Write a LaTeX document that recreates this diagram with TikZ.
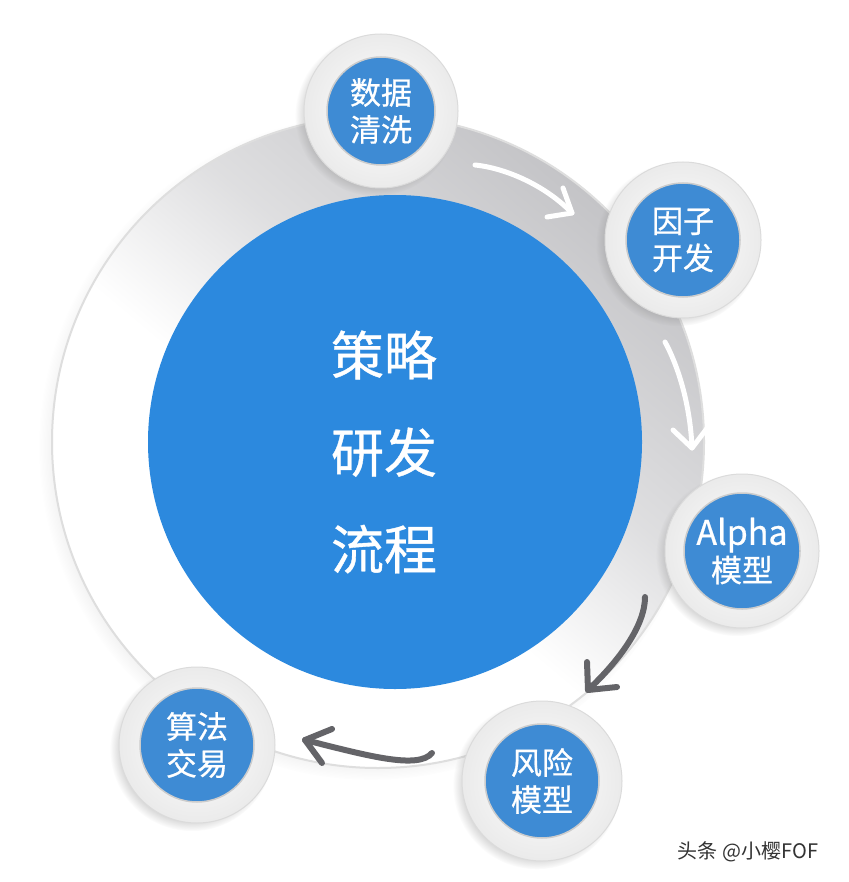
\documentclass[tikz,border=0pt]{standalone}
\usepackage{fontspec}
\newfontfamily\cjk{Noto Sans CJK SC}[FakeBold=0.7]
\newfontfamily\cjkwm{Noto Sans CJK SC}
\usetikzlibrary{shadows,fadings}
\definecolor{coreblue}{RGB}{44,137,222}
\definecolor{dotblue}{RGB}{62,139,212}
\definecolor{ringgray}{RGB}{196,196,199}
\definecolor{arrowgray}{RGB}{100,100,104}
\pgfdeclareverticalshading{ringshade}{100bp}{color(0bp)=(white); color(25bp)=(white); color(45bp)=(white); color(58bp)=(ringgray!55); color(75bp)=(ringgray); color(100bp)=(ringgray)}
\begin{document}
\begin{tikzpicture}[x=1pt,y=-1pt,
  ringdisc/.style={circle, inner sep=0pt, shading=ringshade, shading angle=-40, draw=black!13, line width=2pt,
    circular drop shadow={shadow xshift=-6pt, shadow yshift=-5pt, opacity=0.3, shadow scale=1.02}},
  corebig/.style={circle, inner sep=0pt, fill=coreblue},
  rim/.style={circle, inner sep=0pt, draw=black!14, line width=1pt, inner color=white, outer color=black!8,
    circular drop shadow={shadow xshift=-5pt, shadow yshift=-4pt, opacity=0.35, shadow scale=1.05}},
  dot/.style={circle, inner sep=0pt, fill=dotblue, draw=black!20, line width=1.5pt, text=white, align=center, font=\cjk\fontsize{31}{37}\selectfont},
  whitearrow/.style={draw=white, line width=5pt, line cap=round, line join=round},
  grayarrow/.style={draw=arrowgray, line width=6pt, line cap=round, line join=round}]
\fill[white] (0,0) rectangle (848,882);
\useasboundingbox (0,0) rectangle (848,882);
% big ring
\node[ringdisc, minimum size=652pt] (ring) at (378,442) {};
% arrows
\coordinate (a1s) at (475,165); \coordinate (a1t) at (572,213);
\coordinate (a1l) at (563,188); \coordinate (a1r) at (547,217);
\draw[whitearrow] (a1s) .. controls (505,168) and (545,185) .. (a1t);
\draw[whitearrow] (a1l) -- (a1t) -- (a1r);
\coordinate (a2s) at (665,342); \coordinate (a2t) at (692,448);
\coordinate (a2l) at (673,430); \coordinate (a2r) at (708,427);
\draw[whitearrow] (a2s) .. controls (676,362) and (690,400) .. (a2t);
\draw[whitearrow] (a2l) -- (a2t) -- (a2r);
\coordinate (a3s) at (645,597); \coordinate (a3t) at (588,690);
\coordinate (a3l) at (587,662); \coordinate (a3r) at (617,687);
\draw[grayarrow] (a3s) .. controls (645,625) and (620,660) .. (a3t);
\draw[grayarrow] (a3l) -- (a3t) -- (a3r);
\coordinate (a4s) at (432,753); \coordinate (a4t) at (305,740);
\coordinate (a4l) at (332,729); \coordinate (a4r) at (322,763);
\draw[grayarrow] (a4s) .. controls (418,770) and (365,755) .. (a4t);
\draw[grayarrow] (a4l) -- (a4t) -- (a4r);
% core
\node[corebig, minimum size=494pt] (core) at (395,442) {};
\node[text=white, align=center, font=\cjk\fontsize{53}{97}\selectfont] (title) at (384,452) {策略\\研发\\流程};
% small circles
\node[rim, minimum size=154pt] (r1) at (381,111) {};
\node[dot, minimum size=108pt] (c1) at (r1) {数据\\清洗};
\node[rim, minimum size=156pt] (r2) at (683,240) {};
\node[dot, minimum size=114pt] (c2) at (r2) {因子\\开发};
\node[rim, minimum size=154pt] (r3) at (742,551) {};
\node[dot, minimum size=116pt] (c3) at (r3) {{\fontsize{34}{37}\selectfont Alpha}\\模型};
\node[rim, minimum size=160pt] (r4) at (542,781) {};
\node[dot, minimum size=114pt] (c4) at (r4) {风险\\模型};
\node[rim, minimum size=156pt] (r5) at (197,745) {};
\node[dot, minimum size=114pt] (c5) at (r5) {算法\\交易};
% watermark
\node[font=\cjkwm\fontsize{20}{20}\selectfont, text=black!80, inner sep=0pt] (wm) at (748,852) {头条 @小樱FOF};
\end{tikzpicture}
\end{document}
